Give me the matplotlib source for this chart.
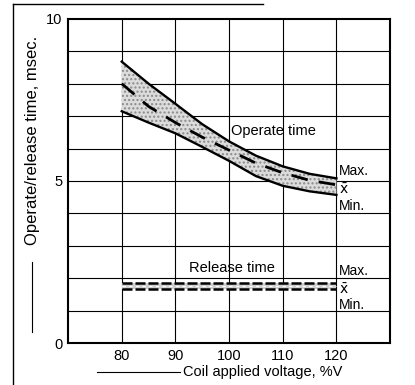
import matplotlib
matplotlib.use("Agg")
import matplotlib.pyplot as plt
from matplotlib.lines import Line2D

voltage = [80, 85, 90, 95, 100, 105, 110, 115, 120]
op_max = [8.68, 8.0, 7.38, 6.75, 6.22, 5.78, 5.45, 5.22, 5.08]
op_mean = [8.0, 7.3, 6.8, 6.35, 5.95, 5.55, 5.25, 5.02, 4.88]
op_min = [7.15, 6.8, 6.47, 6.05, 5.62, 5.15, 4.85, 4.68, 4.57]
rel_volt = [80, 120]
rel_max = [1.85, 1.85]
rel_mean = [1.76, 1.76]
rel_min = [1.67, 1.67]
x_ticks = [80, 90, 100, 110, 120]
y_ticks = [0, 5, 10]

plt.rcParams['font.family'] = ['Liberation Sans', 'DejaVu Sans']
fig = plt.figure(figsize=(4.15, 3.85), dpi=100)
ax = fig.add_axes([0.164, 0.109, 0.776, 0.842])

ax.set_xlim(70, 130)
ax.set_ylim(0, 10)
for xv in x_ticks:
    ax.axvline(xv, color='black', lw=0.8, zorder=1)
for yv in range(1, 10):
    ax.axhline(yv, color='black', lw=0.8, zorder=1)

# operate band
ax.fill_between(voltage, op_min, op_max, facecolor='#dcdcdc', edgecolor='#8a8a8a',
                hatch='....', lw=0, zorder=2)
ax.plot(voltage, op_max, color='black', lw=1.7, zorder=3)
ax.plot(voltage, op_min, color='black', lw=1.7, zorder=3)
ax.plot(voltage, op_mean, color='black', lw=2.0, dashes=(6, 4), zorder=3)

# release band
ax.fill_between(rel_volt, rel_min, rel_max, facecolor='#cfcfcf', lw=0, zorder=2)
ax.plot(rel_volt, rel_max, color='black', lw=1.8, dashes=(4, 1.2), zorder=3)
ax.plot(rel_volt, rel_min, color='black', lw=1.8, dashes=(4, 1.2), zorder=3)
ax.plot(rel_volt, rel_mean, color='white', lw=0.8, dashes=(3, 3), zorder=4)

fs = 10.5
ax.text(108.3, 6.55, 'Operate time', fontsize=fs, ha='center', va='center')
ax.text(100.5, 2.33, 'Release time', fontsize=fs, ha='center', va='center')
for y, s in [(5.3, 'Max.'), (4.72, r'$\bar{\mathrm{x}}$'), (4.22, 'Min.')]:
    ax.text(120.4, y, s, fontsize=10, ha='left', va='center')
for y, s in [(2.22, 'Max.'), (1.66, r'$\bar{\mathrm{x}}$'), (1.18, 'Min.')]:
    ax.text(120.4, y, s, fontsize=10, ha='left', va='center')

ax.set_xticks(x_ticks)
ax.set_yticks(y_ticks)
ax.tick_params(length=0, labelsize=fs, pad=4)
for sp in ax.spines.values():
    sp.set_linewidth(1.5)

# axis labels with arrow lines
fig.text(0.44, 1 - 372 / 385, 'Coil applied voltage, %V', fontsize=fs, ha='left', va='center')
fig.add_artist(Line2D([97 / 415, 180 / 415], [1 - 372 / 385, 1 - 372 / 385], color='black', lw=0.8))
fig.text(32 / 415, 1 - 140 / 385, 'Operate/release time, msec.', fontsize=12, rotation=90,
         ha='center', va='center')
fig.add_artist(Line2D([32 / 415, 32 / 415], [1 - 332 / 385, 1 - 262 / 385], color='black', lw=0.8))

# scanned frame lines
fig.add_artist(Line2D([13 / 415, 263 / 415], [1 - 4 / 385, 1 - 4 / 385], color='black', lw=1.0))
fig.add_artist(Line2D([13 / 415, 13 / 415], [0.0, 1 - 4 / 385], color='black', lw=1.0))

fig.savefig('out.png', dpi=100)
